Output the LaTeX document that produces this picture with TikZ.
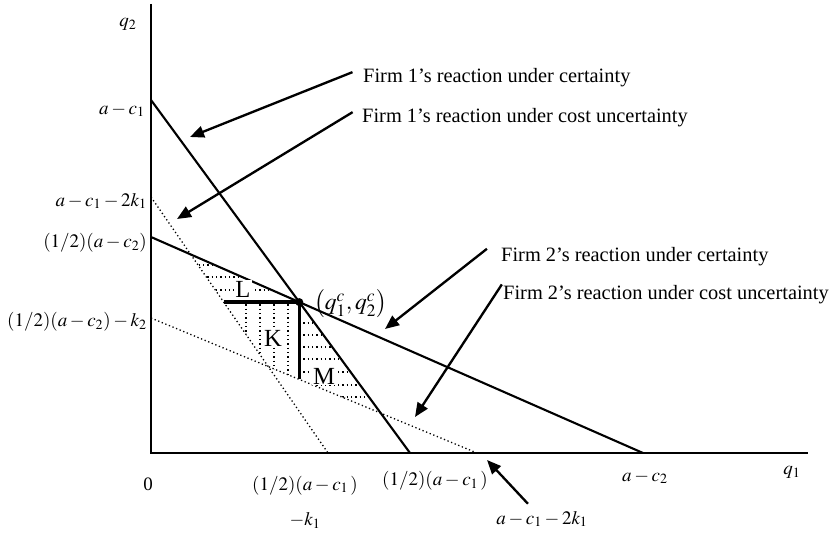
\documentclass[tikz,border=0pt]{standalone}
\usepackage{mathptmx}
\usepackage{fontspec}
\setmainfont{Liberation Serif}
\usetikzlibrary{arrows.meta}

\begin{document}
\begin{tikzpicture}[
  x=0.03cm, y=-0.03cm,
  font=\fontsize{17.4}{20}\selectfont,
  axis/.style={line width=1.4pt},
  react/.style={line width=1.8pt},
  uncert/.style={line width=1.1pt, dash pattern=on 1.1pt off 2.2pt},
  hatch/.style={line width=1.1pt, dash pattern=on 1.1pt off 2.6pt},
  bold/.style={line width=3pt},
  lbl/.style={inner sep=0pt, font=\fontsize{16.2}{19}\selectfont},
  note/.style={anchor=west, inner sep=0pt},
  tag/.style={fill=white, inner sep=1pt, font=\fontsize{21}{24}\selectfont},
  arr/.style={-{Triangle[length=12pt,width=10pt]}, line width=2pt}
]
\useasboundingbox (0,0) rectangle (834,534);

% axes and reaction lines
\coordinate (O) at (151,453);
\coordinate (ytop) at (151,4);
\coordinate (xend) at (808,453);
\coordinate (a1) at (151,100);   \coordinate (b1) at (410,453);
\coordinate (a1u) at (151,197);  \coordinate (b1u) at (328,453);
\coordinate (a2) at (151,237);   \coordinate (b2) at (643,453);
\coordinate (a2u) at (151,318);  \coordinate (b2u) at (477,453);
\coordinate (E) at (299.3,302.1);
\coordinate (pL) at (190.7,254.4);
\coordinate (H) at (223.7,302.1);
\coordinate (V) at (299.3,379.4);
\coordinate (Q) at (268.2,366.5);
\coordinate (R) at (380.8,413.2);

% hatching
\begin{scope}
  \clip (pL) -- (H) -- (E) -- cycle;
  \foreach \y in {265,277,290} \draw[hatch] (151,\y) -- (300,\y);
\end{scope}
\begin{scope}
  \clip (H) -- (E) -- (V) -- (Q) -- cycle;
  \foreach \x in {246,260,274,288} \draw[hatch] (\x,300) -- (\x,420);
\end{scope}
\begin{scope}
  \clip (E) -- (R) -- (V) -- cycle;
  \foreach \y in {323,335,347,359,372,385,397} \draw[hatch] (299,\y) -- (400,\y);
\end{scope}

\draw[axis] (ytop) -- (O) -- (xend);
\draw[react] (a1) -- (b1);
\draw[react] (a2) -- (b2);
\draw[uncert] (a1u) -- (b1u);
\draw[uncert] (a2u) -- (b2u);
\draw[bold] (H) -- (E) -- (V);
\fill (E) circle (4);

\node[tag] (L) at (243,289) {L};
\node[tag] (K) at (273,338) {K};
\node[tag] (M) at (324,376) {M};
\node[inner sep=0pt, anchor=west, font=\fontsize{20}{24}\selectfont] (eq) at (314,304)
  {$\bigl(q_1^c,q_2^c\bigr)$};

% axis labels
\node[lbl] (lq2) at (128,24) {$q_2$};
\node[lbl] (lq1) at (792,472) {$q_1$};
\node[lbl] (l0) at (148,484) {0};
\node[lbl, anchor=east] (lac1) at (145,110) {$a-c_1$};
\node[lbl, anchor=east] (lac1k) at (147,201) {$a-c_1-2k_1$};
\node[lbl, anchor=east] (lhalf2) at (147,243) {$(1/2)(a-c_2)$};
\node[lbl, anchor=east] (lhalf2k) at (147,322) {$(1/2)(a-c_2)-k_2$};
\node[lbl, align=center] (lhalf1k) at (305,502) {$(1/2)(a-c_1\,)$\\[11pt]$-k_1$};
\node[lbl] (lhalf1) at (435,481) {$(1/2)(a-c_1\,)$};
\node[lbl] (lac1kb) at (542,519) {$a-c_1-2k_1$};
\node[lbl] (lac2) at (645,477) {$a-c_2$};

% notes
\node[note] (f1c) at (363,78) {Firm 1's reaction under certainty};
\node[note] (f1u) at (362,118) {Firm 1's reaction under cost uncertainty};
\node[note] (f2c) at (501,257) {Firm 2's reaction under certainty};
\node[note] (f2u) at (503,295) {Firm 2's reaction under cost uncertainty};

\coordinate (t1) at (190,137);
\coordinate (t2) at (177,219);
\coordinate (t3) at (385,329);
\coordinate (t4) at (415,417);
\coordinate (t5) at (487,460);

\draw[arr] ([xshift=-9pt,yshift=5pt]f1c.west) -- (t1);
\draw[arr] ([xshift=-8pt,yshift=5pt]f1u.west) -- (t2);
\draw[arr] ([xshift=-12pt,yshift=7pt]f2c.west) -- (t3);
\draw[arr] ([xshift=-1pt,yshift=9pt]f2u.west) -- (t4);
\draw[arr] ([xshift=-12pt,yshift=6pt]lac1kb.north) -- (t5);

\end{tikzpicture}
\end{document}
